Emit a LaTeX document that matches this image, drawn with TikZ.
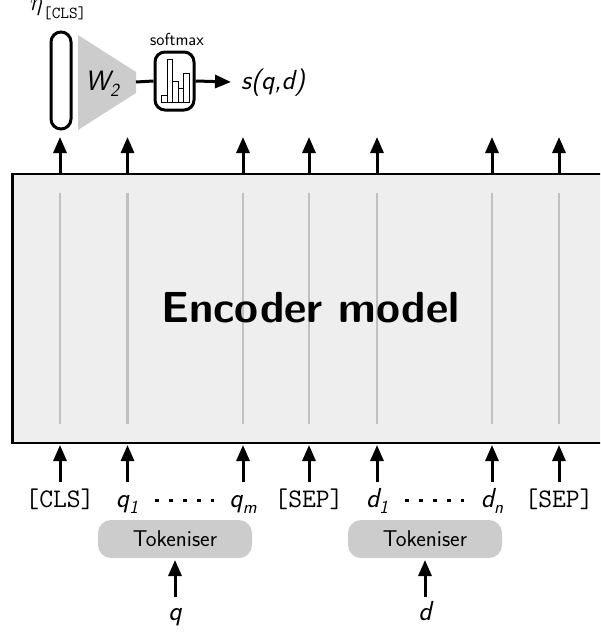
\documentclass[tikz,border=0pt]{standalone}
\usetikzlibrary{arrows.meta}
\newcommand{\fsz}[1]{\fontsize{#1}{#1}\selectfont}
\newcommand{\lowsub}[1]{\raisebox{-6pt}{\fsz{18.5}#1}}
\definecolor{encfill}{HTML}{EEEEEE}
\definecolor{tokfill}{HTML}{CCCCCC}
\definecolor{ticol}{HTML}{C0C0C0}
\tikzset{
  arr/.style={line width=3pt,-{Triangle[length=16pt,width=13pt]}},
  plainline/.style={line width=3pt},
  token/.style={inner sep=0pt,anchor=base,font=\fsz{27.5}\itshape\sffamily,text=black},
  monotok/.style={inner sep=0pt,anchor=base,font=\fsz{26.8}\ttfamily,text=black},
  tokbox/.style={fill=tokfill,rounded corners=13pt,minimum width=154pt,minimum height=38pt,inner sep=0pt,font=\fsz{22.8}\sffamily},
  dots/.style={line width=3pt,dash pattern=on 3.5pt off 10.5pt},
  barstyle/.style={draw=black,line width=1pt,fill=white}
}
\begin{document}
\begin{tikzpicture}[x=1pt,y=-1pt]
\useasboundingbox (0,0) rectangle (600,637);
\begin{scope}
\clip (0,0) rectangle (600,637);
% encoder
\node[draw=black,fill=encfill,line width=2.6pt,outer sep=0pt,minimum width=620pt,minimum height=269pt,inner sep=0pt,anchor=north west] (enc) at (12.3,174) {};
\foreach \n/\x in {a/60,b/127.5,c/243,e/309,f/377,g/492,h/559}{
  \coordinate (lt\n) at (\x,193);
  \coordinate (lb\n) at (\x,424);
  \coordinate (et\n) at (\x,174);
  \coordinate (up\n) at (\x,137);
  \coordinate (eb\n) at (\x,445);
  \coordinate (st\n) at (\x,482);
  \draw[ticol,line width=2.3pt] (lt\n) -- (lb\n);
  \draw[arr] (et\n) -- (up\n);
  \draw[arr] (st\n) -- (eb\n);
}
\node[inner sep=0pt,font=\fsz{43.5}\sffamily\bfseries] (enclabel) at (310.5,308) {Encoder model};
% tokens
\node[monotok] (cls) at (60,507) {[CLS]};
\node[token] (q1) at (127,507) {q\lowsub{1}};
\node[token] (qm) at (243,507) {q\lowsub{m}};
\node[monotok] (sep1) at (309,507) {[SEP]};
\node[token] (d1) at (377,507) {d\lowsub{1}};
\node[token] (dn) at (492,507) {d\lowsub{n}};
\node[monotok] (sep2) at (559,507) {[SEP]};
\coordinate (q1d) at (155,500); \coordinate (qmd) at (214,500);
\coordinate (d1d) at (405,500); \coordinate (dnd) at (464,500);
\draw[dots] (q1d) -- (qmd);
\draw[dots] (d1d) -- (dnd);
% tokenisers
\node[tokbox] (tk1) at (175,539) {Tokeniser};
\node[tokbox] (tk2) at (425,539) {Tokeniser};
\node[token] (q) at (175,620) {q};
\node[token] (d) at (425,620) {d};
\coordinate (qs) at (175,597); \coordinate (qe) at (175,560);
\coordinate (ds) at (425,597); \coordinate (de) at (425,560);
\draw[arr] (qs) -- (qe);
\draw[arr] (ds) -- (de);
% top
\node[inner sep=0pt,anchor=base west] (eta) at (30,10) {\fsz{27}$\eta$\raisebox{-8.5pt}{\fsz{16.8}\ttfamily [CLS]}};
\node[draw=black,fill=white,line width=3pt,rounded corners=10pt,minimum width=20pt,minimum height=97pt,inner sep=0pt] (pill) at (61,80.5) {};
\fill[tokfill] (78,35) -- (136,72) -- (136,93) -- (78,130) -- cycle;
\coordinate (wr) at (136,82);
\node[inner sep=0pt,anchor=base west] (w2) at (85,90) {\fsz{28}\itshape\sffamily W\raisebox{-6pt}{\fsz{18.5}2}};
\node[draw=black,fill=white,line width=3pt,rounded corners=10pt,minimum width=39pt,minimum height=58pt,inner sep=0pt] (sm) at (174.5,81) {};
\draw[barstyle] (161,102) rectangle (167,95);
\draw[barstyle] (167,102) rectangle (172.5,59);
\draw[barstyle] (172.5,102) rectangle (178,81);
\draw[barstyle] (178,102) rectangle (183.5,88);
\draw[barstyle] (183.5,102) rectangle (189,73);
\node[inner sep=0pt,font=\fsz{17.4}\sffamily] (smlabel) at (177,39) {softmax};
\draw[plainline] (wr) -- (sm.west);
\coordinate (outc) at (231,82);
\draw[arr] (sm.east) -- (outc);
\node[inner sep=0pt,anchor=base west,font=\fsz{27.5}\itshape\sffamily] (score) at (241,89.5) {s(q,d)};
\end{scope}
\end{tikzpicture}
\end{document}
